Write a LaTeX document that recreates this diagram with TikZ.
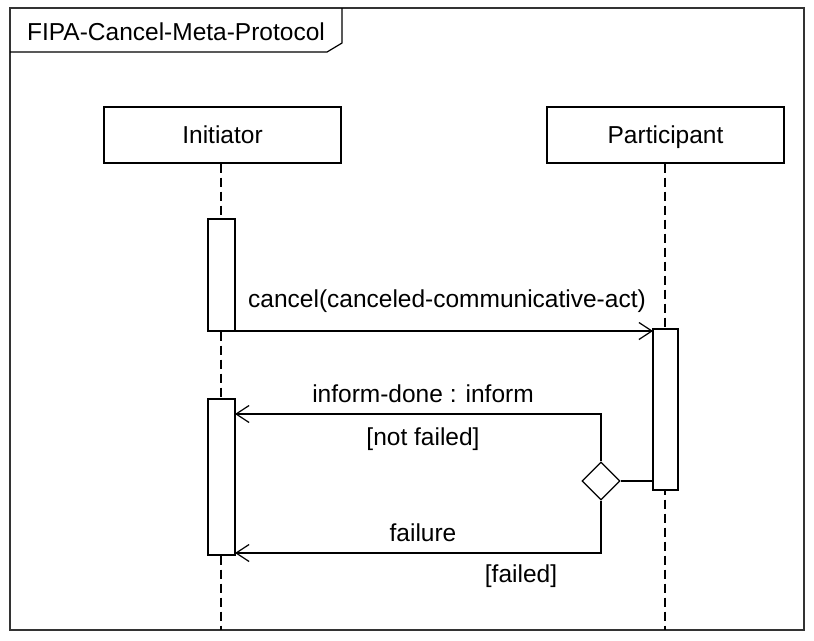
\documentclass[tikz,border=0pt]{standalone}
\usepackage{fontspec}
\setmainfont{Liberation Sans}
\usetikzlibrary{arrows.meta,shapes.geometric}
\begin{document}
\begin{tikzpicture}[x=1pt,y=-1pt,
  line width=1.2pt,
  lbl/.style={font=\fontsize{24.5}{29}\selectfont, inner sep=0pt, text height=17.5pt, text depth=0pt},
  lifebox/.style={draw, minimum width=237pt, minimum height=56pt, font=\fontsize{24.5}{29}\selectfont, text height=17.5pt, text depth=0pt},
  actbox/.style={draw, fill=white},
  lifeline/.style={dash pattern=on 9pt off 5pt},
  msg/.style={-{Straight Barb[length=13pt,width=17pt]}},
  choice/.style={draw, diamond, fill=white, minimum width=38pt, minimum height=38pt, inner sep=0pt}
]
\useasboundingbox (0,0) rectangle (814,640);
% frame
\draw[line width=1.4pt, black!80] (10,8) rectangle (804,630);
\draw (10,52) -- (327,52) -- (342,43) -- (342,8);
\node[lbl] (title) at (176,32) {FIPA-Cancel-Meta-Protocol};
% lifelines
\node[lifebox] (ini) at (222.5,135) {Initiator};
\node[lifebox] (par) at (665.5,135) {Participant};
\coordinate (iniEnd) at (221,630);
\coordinate (parEnd) at (665,630);
\draw[lifeline] (ini.south -| iniEnd) -- (iniEnd);
\draw[lifeline] (par.south -| parEnd) -- (parEnd);
% activations
\draw[actbox] (208,219) rectangle (235,331);
\coordinate (a1r) at (235,331);
\draw[actbox] (208,399) rectangle (235,555);
\coordinate (a2t) at (235,414);
\coordinate (a2b) at (235,553);
\draw[actbox] (653,329) rectangle (678,490);
\coordinate (pa) at (653,331);
\coordinate (pd) at (653,481);
% cancel message
\draw[msg] (a1r) -- (pa);
\node[lbl] (cancel) at (447,299) {cancel(canceled-communicative-act)};
% choice
\node[choice] (d) at (601,481) {};
\draw (d.east) -- (pd);
\coordinate (dt) at (601,414);
\coordinate (db) at (601,553);
\draw[msg] (d.north) -- (dt) -- (a2t);
\draw[msg] (d.south) -- (db) -- (a2b);
\node[lbl] (inf) at (423,394) {inform-done : inform};
\node[lbl] (nf) at (423,437) {[not failed]};
\node[lbl] (fail) at (423,533) {failure};
\node[lbl] (fd) at (521,574) {[failed]};
\end{tikzpicture}
\end{document}
